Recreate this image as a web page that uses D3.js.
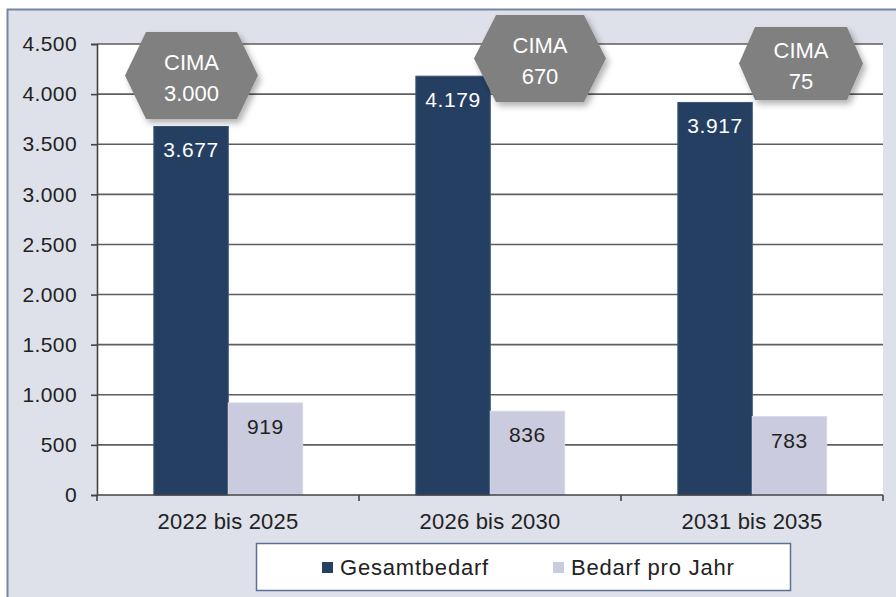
<!DOCTYPE html>
<html>
<head>
<meta charset="utf-8">
<script src="https://cdn.jsdelivr.net/npm/d3@7/dist/d3.min.js"></script>
<style>
  html, body { margin: 0; padding: 0; background: #ffffff; }
  svg { display: block; font-family: "Liberation Sans", Arial, sans-serif; }
</style>
</head>
<body>
<svg id="chart" width="896" height="597"></svg>
<script>
// Wohnungsbedarf nach Zeitraum
const categories = ["2022 bis 2025", "2026 bis 2030", "2031 bis 2035"];
const seriesNames = ["Gesamtbedarf", "Bedarf pro Jahr"];
const gesamtbedarf = [3677, 4179, 3917];
const bedarfProJahr = [919, 836, 783];
const yTicks = [0, 500, 1000, 1500, 2000, 2500, 3000, 3500, 4000, 4500];
const cimaLabels = ["3.000", "670", "75"];

const colors = { "Gesamtbedarf": "#243f61", "Bedarf pro Jahr": "#cbcbdf" };
const fmt = d3.formatLocale({ decimal: ",", thousands: ".", grouping: [3], currency: ["", " €"] }).format(",d");

const svg = d3.select("#chart");
const plot = { left: 97, right: 883, top: 44, bottom: 495 };

// outer frame
svg.append("rect")
  .attr("x", 7.5).attr("y", 9.5).attr("width", 1000).attr("height", 1000)
  .attr("fill", "#dee0ea").attr("stroke", "#7587a0").attr("stroke-width", 2);

// plot area
svg.append("rect")
  .attr("x", plot.left).attr("y", plot.top)
  .attr("width", plot.right - plot.left).attr("height", plot.bottom - plot.top)
  .attr("fill", "#ffffff");

const y = d3.scaleLinear().domain([0, 4500]).range([plot.bottom, plot.top]);
const x0 = d3.scaleBand().domain(categories).range([plot.left, plot.right]);
const bw = x0.bandwidth();
const x1 = d3.scaleBand().domain(seriesNames).range([bw * 0.217, bw * 0.785]);

// horizontal gridlines
svg.append("g")
  .selectAll("line")
  .data(yTicks.filter(d => d > 0))
  .join("line")
  .attr("x1", plot.left).attr("x2", plot.right)
  .attr("y1", d => y(d)).attr("y2", d => y(d))
  .attr("stroke", "#5e5e5e").attr("stroke-width", 1.6);

// bars
const rows = categories.map((c, i) => ({
  cat: c,
  values: [
    { key: seriesNames[0], value: gesamtbedarf[i] },
    { key: seriesNames[1], value: bedarfProJahr[i] }
  ]
}));

const groups = svg.append("g").selectAll("g")
  .data(rows).join("g")
  .attr("transform", d => `translate(${x0(d.cat)},0)`);

groups.selectAll("rect")
  .data(d => d.values).join("rect")
  .attr("x", d => x1(d.key))
  .attr("y", d => y(d.value))
  .attr("width", x1.bandwidth())
  .attr("height", d => y(0) - y(d.value))
  .attr("fill", d => colors[d.key])
  .attr("stroke", d => d.key === seriesNames[0] ? "#3a5576" : "#d9d9ea")
  .attr("stroke-width", 1);

groups.selectAll("text")
  .data(d => d.values).join("text")
  .attr("x", d => x1(d.key) + x1.bandwidth() / 2)
  .attr("y", d => y(d.value) + 31)
  .attr("text-anchor", "middle")
  .attr("font-size", 21)
  .attr("letter-spacing", 0.6)
  .attr("fill", d => d.key === seriesNames[0] ? "#ffffff" : "#222222")
  .text(d => fmt(d.value));

// y axis
const yAxis = svg.append("g")
  .attr("transform", `translate(${plot.left},0)`)
  .call(d3.axisLeft(y).tickValues(yTicks).tickSize(6).tickPadding(14).tickFormat(fmt));
yAxis.select(".domain").attr("stroke", "#444").attr("stroke-width", 1.6);
yAxis.selectAll(".tick line").attr("stroke", "#444").attr("stroke-width", 1.6);
yAxis.selectAll("text").attr("font-size", 21).attr("fill", "#222").attr("letter-spacing", 0.4)
  .attr("font-family", "'Liberation Sans', Arial, sans-serif");

// x axis with ticks at category boundaries
const xAxis = svg.append("g").attr("transform", `translate(0,${plot.bottom})`);
xAxis.append("line")
  .attr("x1", plot.left).attr("x2", plot.right)
  .attr("stroke", "#444").attr("stroke-width", 1.6);
const bounds = categories.map(c => x0(c)).concat([x0(categories[categories.length - 1]) + bw]);
xAxis.selectAll("line.tk").data(bounds).join("line").attr("class", "tk")
  .attr("x1", d => d).attr("x2", d => d).attr("y1", 0).attr("y2", 6)
  .attr("stroke", "#444").attr("stroke-width", 1.6);
xAxis.selectAll("text").data(categories).join("text")
  .attr("x", d => x0(d) + bw / 2)
  .attr("y", 34)
  .attr("text-anchor", "middle")
  .attr("font-size", 22)
  .attr("letter-spacing", 0.2)
  .attr("fill", "#222")
  .text(d => d);

// CIMA hexagon callouts
const defs = svg.append("defs");
const filt = defs.append("filter").attr("id", "shadow")
  .attr("x", "-20%").attr("y", "-20%").attr("width", "150%").attr("height", "150%");
filt.append("feDropShadow").attr("dx", 3).attr("dy", 4).attr("stdDeviation", 3)
  .attr("flood-color", "#000").attr("flood-opacity", 0.3);

const hexLayout = [
  { dx: -36.5, cy: 75.5, w: 133, h: 87, inset: 21 },
  { dx: 50, cy: 58.5, w: 132, h: 87, inset: 22 },
  { dx: 49, cy: 63.5, w: 124, h: 73, inset: 16 }
];

const hexes = svg.append("g").selectAll("g")
  .data(categories.map((c, i) => ({ cat: c, label: cimaLabels[i], ...hexLayout[i] })))
  .join("g")
  .attr("transform", d => `translate(${x0(d.cat) + bw / 2 + d.dx},${d.cy})`);

hexes.append("polygon")
  .attr("points", d => {
    const w = d.w / 2, h = d.h / 2, k = d.inset;
    return [[-w, 0], [-w + k, -h], [w - k, -h], [w, 0], [w - k, h], [-w + k, h]]
      .map(p => p.join(",")).join(" ");
  })
  .attr("fill", "#808080")
  .attr("filter", "url(#shadow)");

hexes.append("text")
  .attr("y", -6).attr("text-anchor", "middle")
  .attr("font-size", 22).attr("fill", "#ffffff")
  .text("CIMA");
hexes.append("text")
  .attr("y", 25).attr("text-anchor", "middle")
  .attr("font-size", 22).attr("fill", "#ffffff")
  .text(d => d.label);

// legend
const legend = svg.append("g");
legend.append("rect")
  .attr("x", 256.5).attr("y", 543.5).attr("width", 534).attr("height", 47)
  .attr("fill", "#ffffff").attr("stroke", "#5b7193").attr("stroke-width", 1.5);
const legendX = [322, 553];
const items = legend.selectAll("g.item").data(seriesNames).join("g").attr("class", "item")
  .attr("transform", (d, i) => `translate(${legendX[i]},562)`);
items.append("rect").attr("width", 11).attr("height", 11).attr("fill", d => colors[d]);
items.append("text").attr("x", 18).attr("y", 13)
  .attr("font-size", 22).attr("letter-spacing", 0.8).attr("fill", "#222")
  .text(d => d);
</script>
</body>
</html>
